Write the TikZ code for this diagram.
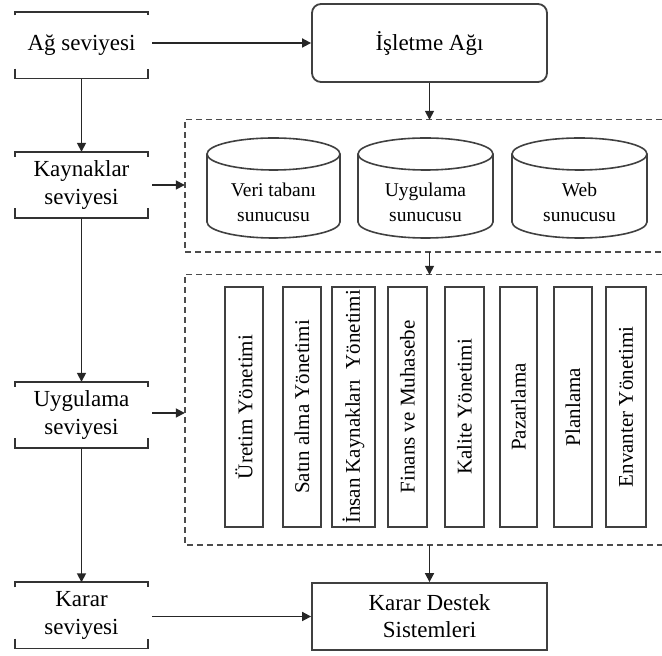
\documentclass[tikz,border=0pt]{standalone}
\usepackage{fontspec}
\setmainfont{Liberation Serif}
\usetikzlibrary{arrows.meta,calc}

\tikzset{
  line/.style={line width=1.7pt, draw=black!85},
  arr/.style={line, -{Triangle[length=9pt,width=9pt]}},
  level/.style={minimum width=133pt, minimum height=66pt, inner sep=0pt, align=center,
                font=\fontsize{23}{28}\selectfont},
  bracket/.style={line width=1.6pt, draw=black!80},
  mainbox/.style={draw=black!75, line width=1.8pt, minimum width=235pt, align=center,
                  font=\fontsize{23}{27}\selectfont, fill=white},
  zone/.style={minimum width=477pt, inner sep=0pt},
  zoneline/.style={draw=black!70, line width=1.4pt, dash pattern=on 6pt off 4pt},
  cyltext/.style={align=center, inner sep=0pt, font=\fontsize{19.5}{25}\selectfont},
  cyl/.style={draw=black!75, line width=1.6pt},
  modbox/.style={draw=black!75, line width=1.8pt, rotate=90, minimum width=240pt,
                 inner sep=0pt, font=\fontsize{21}{24}\selectfont}
}

\begin{document}
\begin{tikzpicture}[x=1pt,y=1pt]
\useasboundingbox (0,0) rectangle (662,656);

% level labels on the left
\node[level] (L1) at (81.5,610.5) {Ağ seviyesi};
\node[level] (L2) at (81.5,471) {Kaynaklar\\seviyesi};
\node[level] (L3) at (81.5,241) {Uygulama\\seviyesi};
\node[level] (L4) at (81.5,40.5) {Karar\\seviyesi};

% brackets above and below each level label
\foreach \n/\t in {L1/3,L2/5,L3/5,L4/5}{
  \draw[bracket] ($(\n.north west)+(0,-\t)$) -- (\n.north west) -- (\n.north east) -- ($(\n.north east)+(0,-\t)$);
  \draw[bracket] ($(\n.south west)+(0,10)$) -- (\n.south west) -- (\n.south east) -- ($(\n.south east)+(0,10)$);
}

% network box
\node[mainbox, rounded corners=9pt, minimum height=78pt] (isl) at (429.5,613) {İşletme Ağı};

% decision support box
\node[mainbox, minimum height=67pt] (kds) at (429.5,39.5) {Karar Destek\\Sistemleri};

% dashed zones (open on the right)
\node[zone, minimum height=132pt] (srv) at (423.5,470) {};
\node[zone, minimum height=270pt] (app) at (423.5,246) {};
\foreach \z in {srv,app}
  \draw[zoneline] (\z.north east) -- (\z.north west) -- (\z.south west) -- (\z.south east);

% servers
\node[cyltext] (c1) at (273.5,454) {Veri tabanı\\sunucusu};
\node[cyltext] (c2) at (425.5,454) {Uygulama\\sunucusu};
\node[cyltext] (c3) at (579.5,454) {Web\\sunucusu};
\foreach \n/\w in {c1/133,c2/135,c3/135}{
  \draw[cyl] ($(\n)+(-\w/2,48)$) -- ($(\n)+(-\w/2,-20)$)
     arc[start angle=180, end angle=360, x radius={\w*0.5pt}, y radius=16pt]
     -- ($(\n)+(\w/2,48)$);
  \draw[cyl] ($(\n)+(0,48)$) ellipse[x radius={\w*0.5pt}, y radius=16pt];
}

% application modules
\node[modbox, minimum height=38pt] (m1) at (244,249) {Üretim Yönetimi};
\node[modbox, minimum height=38pt] (m2) at (302,249) {Satın alma Yönetimi};
\node[modbox, minimum height=43pt] (m3) at (353.5,249) {İnsan Kaynakları\ \ Yönetimi};
\node[modbox, minimum height=39pt] (m4) at (407.5,249) {Finans ve Muhasebe};
\node[modbox, minimum height=39pt] (m5) at (464.5,249) {Kalite Yönetimi};
\node[modbox, minimum height=37pt] (m6) at (518.5,249) {Pazarlama};
\node[modbox, minimum height=38pt] (m7) at (573,249) {Planlama};
\node[modbox, minimum height=40pt] (m8) at (626,249) {Envanter Yönetimi};

% connectors between levels
\draw[arr] (L1.south) -- (L2.north);
\draw[arr] (L2.south) -- (L3.north);
\draw[arr] (L3.south) -- (L4.north);

\draw[arr, shorten <=4pt] (L1.east |- isl.west) -- (isl.west);
\draw[arr, shorten <=4pt] (L2.east) -- (L2.east -| srv.west);
\draw[arr, shorten <=4pt] ([yshift=2pt]L3.east) -- ([yshift=2pt]L3.east -| app.west);
\draw[arr, shorten <=4pt] (L4.east |- kds.west) -- (kds.west);

\draw[arr] (isl.south) -- (isl.south |- srv.north);
\draw[arr] (srv.south -| isl.south) -- (app.north -| isl.south);
\draw[arr] (app.south -| kds.north) -- (kds.north);
\end{tikzpicture}
\end{document}
